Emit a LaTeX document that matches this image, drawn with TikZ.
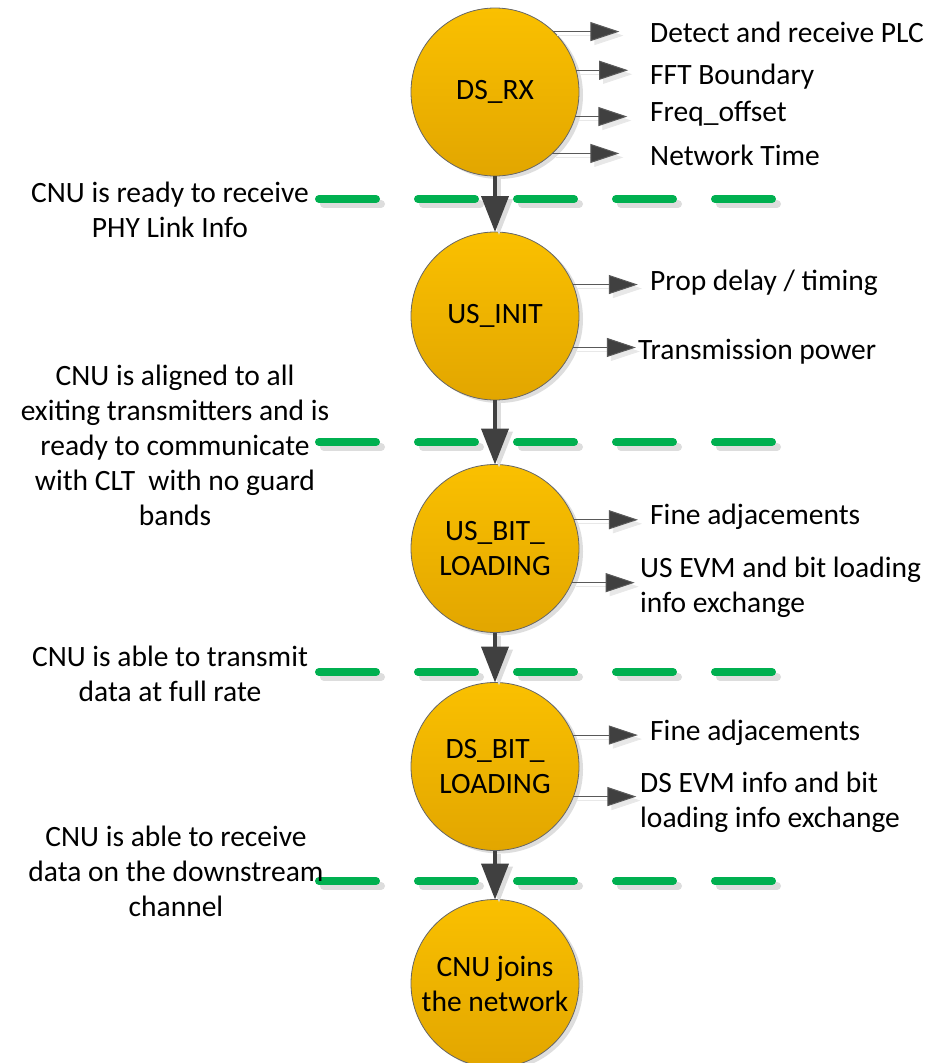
\documentclass[tikz,border=0pt]{standalone}
\usepackage{fontspec}
\setmainfont{Carlito}
\usetikzlibrary{arrows.meta,shadows}
\definecolor{orangetop}{HTML}{FAC000}
\definecolor{orangebot}{HTML}{E2A600}
\definecolor{arrgray}{HTML}{404040}
\definecolor{linegray}{HTML}{595959}
\definecolor{dashgreen}{HTML}{00B050}
\definecolor{shadowgray}{HTML}{DDDDDD}
\definecolor{lightshadow}{HTML}{E8E8E8}
\begin{document}
\begin{tikzpicture}[x=1pt,y=-1pt,
  every node/.style={font=\fontsize{29.5}{35}\selectfont},
  state/.style={circle, minimum size=168pt, inner sep=0pt, outer sep=0pt, align=center,
    draw=black!60, line width=0.8pt, top color=orangetop, bottom color=orangebot,
    drop shadow={shadow xshift=4pt, shadow yshift=-3pt, fill=black, opacity=0.13}},
  rtxt/.style={anchor=west, inner sep=0pt, align=left},
  ltxt/.style={inner sep=0pt, align=center},
  flow/.style={draw=arrgray, line width=4pt, -{Triangle[length=36pt,width=27pt,fill=arrgray]},
    preaction={draw=shadowgray, line width=4pt, -{Triangle[length=36pt,width=27pt,fill=shadowgray]},
      transform canvas={shift={(4pt,-3pt)}}}},
  side/.style={draw=linegray, line width=1pt, -{Triangle[length=29pt,width=19pt,fill=arrgray]},
    preaction={draw=lightshadow, line width=0.8pt, -{Triangle[length=29pt,width=19pt,fill=lightshadow]},
      transform canvas={shift={(4pt,-4pt)}}}},
  dashline/.style={draw=dashgreen, line width=8pt, line cap=round, dash pattern=on 57pt off 42pt,
    preaction={draw=shadowgray, line width=8pt, line cap=round, dash pattern=on 57pt off 42pt,
      transform canvas={shift={(5pt,-5pt)}}}}
]
\useasboundingbox (0,0) rectangle (942,1063);

% separators
\draw[dashline] (319,199) -- (772,199);
\draw[dashline] (319,442) -- (772,442);
\draw[dashline] (319,672) -- (772,672);
\draw[dashline] (319,881) -- (772,881);

% states
\node[state] (dsrx) at (495,92) {DS\_RX};
\node[state] (usinit) at (495,316) {US\_INIT};
\node[state] (usbit) at (495,548.5) {US\_BIT\_\\LOADING};
\node[state] (dsbit) at (495,766.5) {DS\_BIT\_\\LOADING};
\node[state] (join) at (495,983.5) {CNU joins\\the network};

% flow arrows
\draw[flow] (dsrx) -- (usinit);
\draw[flow] (usinit) -- (usbit);
\draw[flow] (usbit) -- (dsbit);
\draw[flow] (dsbit) -- (join);

% right labels
\node[rtxt] (r1) at (650,32) {Detect and receive PLC};
\node[rtxt] (r2) at (650,77) {FFT Boundary};
\node[rtxt] (r3) at (650,114) {Freq\_offset};
\node[rtxt] (r4) at (650,155) {Network Time};
\node[rtxt] (r5) at (650,283) {Prop delay / timing};
\node[rtxt] (r6) at (638,352) {Transmission power};
\node[rtxt] (r7) at (650,517) {Fine adjacements};
\node[rtxt] (r8) at (640,587) {US EVM and bit loading\\info exchange};
\node[rtxt] (r9) at (650,733) {Fine adjacements};
\node[rtxt] (r10) at (640,802) {DS EVM info and bit\\loading info exchange};

% side arrows
\draw[side] (dsrx.46) -- ++(66,0);
\draw[side] (dsrx.15) -- ++(52,0);
\draw[side] (dsrx.-17) -- ++(52,0);
\draw[side] (dsrx.-47) -- ++(67,0);
\draw[side] (usinit.22) -- ++(65,0);
\draw[side] (usinit.-22) -- ++(63,0);
\draw[side] (usbit.20) -- ++(64,0);
\draw[side] (usbit.-24) -- ++(63,0);
\draw[side] (dsbit.22) -- ++(65,0);
\draw[side] (dsbit.-21) -- ++(63,0);

% left labels
\node[ltxt] (l1) at (170,210) {CNU is ready to receive\\PHY Link Info};
\node[ltxt] (l2) at (175,445.5) {CNU is aligned to all\\exiting transmitters and is\\ready to communicate\\with CLT\ \ with no guard\\bands};
\node[ltxt] (l3) at (170,674) {CNU is able to transmit\\data at full rate};
\node[ltxt] (l4) at (176,871.5) {CNU is able to receive\\data on the downstream\\channel};
\end{tikzpicture}
\end{document}
